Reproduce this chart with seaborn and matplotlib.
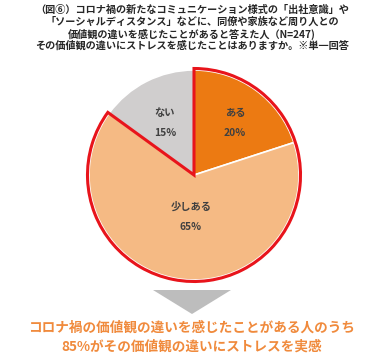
import matplotlib
matplotlib.use("Agg")
import matplotlib.pyplot as plt
from matplotlib.patches import Wedge, Polygon
import seaborn as sns

categories = ["ある", "少しある", "ない"]
values = [20, 65, 15]
colors = ["#EC7A12", "#F5BA84", "#D0CECE"]
title_lines = [
    "（図⑥）コロナ禍の新たなコミュニケーション様式の「出社意識」や",
    "「ソーシャルディスタンス」などに、同僚や家族など周り人との",
    "価値観の違いを感じたことがあると答えた人（N=247)",
    "その価値観の違いにストレスを感じたことはありますか。※単一回答",
]
bottom_lines = [
    "コロナ禍の価値観の違いを感じたことがある人のうち",
    "85%がその価値観の違いにストレスを実感",
]

sns.set_theme(style="white")
plt.rcParams['font.family'] = ['Noto Sans CJK JP', 'DejaVu Sans']

W, H = 384, 364
fig = plt.figure(figsize=(W / 100, H / 100), dpi=100)
fig.patch.set_facecolor("white")

# pie axes: center (194,175) px, 100 px per unit
cx, cy = 194, 175
ax = fig.add_axes([(cx - 110) / W, (H - cy - 110) / H, 220 / W, 220 / H])

wedges, _ = ax.pie(values, colors=colors, startangle=90, counterclock=False,
                   radius=1.05, wedgeprops=dict(edgecolor="white", linewidth=1.2))
ax.set_xlim(-1.1, 1.1)
ax.set_ylim(-1.1, 1.1)
ax.set_aspect("equal")
ax.axis("off")

# red outline around "ある" + "少しある"
outline = Wedge((0, 0), 1.065, 90 + 360 * values[2] / 100, 450, fill=False,
                edgecolor="#E8141B", linewidth=2.2, joinstyle="miter", zorder=5)
ax.add_patch(outline)

label_pos = [(0.41, 0.62), (-0.03, -0.32), (-0.29, 0.62)]
for (x, y), c, v in zip(label_pos, categories, values):
    ax.text(x, y, c, ha="center", va="center", fontsize=7.4, fontweight="bold", color="#404040")
    ax.text(x, y - 0.2, f"{v}%", ha="center", va="center", fontsize=7.4, fontweight="bold", color="#404040")

# title
for i, line in enumerate(title_lines):
    fig.text(192 / W, 1 - (10 + i * 12) / H, line, ha="center", va="center",
             fontsize=7.3, fontweight="bold", color="#262626")

# arrow triangle
tri = Polygon([(153 / W, 1 - 290 / H), (231 / W, 1 - 290 / H), (192 / W, 1 - 314 / H)],
              closed=True, transform=fig.transFigure, facecolor="#BDBDBD", edgecolor="none")
fig.patches.append(tri)

for i, line in enumerate(bottom_lines):
    fig.text(192 / W, 1 - (328 + i * 19) / H, line, ha="center", va="center",
             fontsize=9.8, fontweight="bold", color="#F08A3C")

fig.savefig("out.png", dpi=100, facecolor="white")
